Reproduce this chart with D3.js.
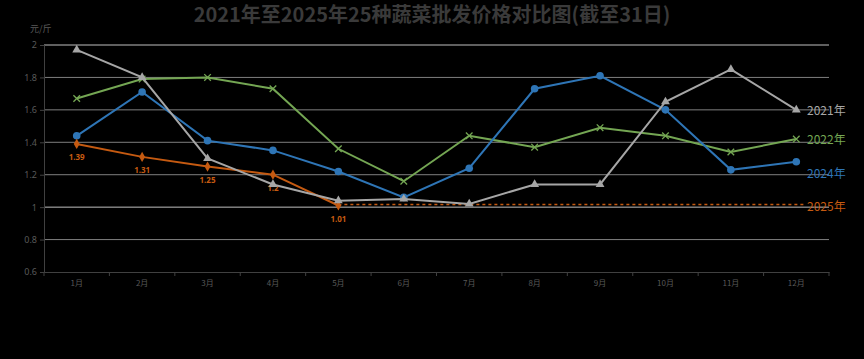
<!DOCTYPE html>
<html><head><meta charset="utf-8">
<script src="https://cdn.jsdelivr.net/npm/d3@7"></script>
<style>body{margin:0;background:#000;}svg{display:block;}</style>
</head><body>
<svg id="c" width="864" height="359"></svg>
<script>
const months = ["1月","2月","3月","4月","5月","6月","7月","8月","9月","10月","11月","12月"];
const yTicks = [0.6,0.8,1,1.2,1.4,1.6,1.8,2];
const s2021 = [1.97,1.80,1.30,1.14,1.04,1.05,1.02,1.14,1.14,1.65,1.85,1.60];
const s2022 = [1.67,1.79,1.80,1.73,1.36,1.16,1.44,1.37,1.49,1.44,1.34,1.42];
const s2024 = [1.44,1.71,1.41,1.35,1.22,1.06,1.24,1.73,1.81,1.60,1.23,1.28];
const s2025 = [1.39,1.31,1.25,1.20,1.01];
const names = ["2021年","2022年","2024年","2025年"];
const colors = ["#a6a6a6","#74a653","#2e75b6","#c55a11"];

const svg = d3.select("#c");
const x = d3.scaleBand().domain(months).range([44,829]);
const y = d3.scaleLinear().domain([0.6,2]).range([272,45]);
const cx = m => x(m) + x.bandwidth()/2;

svg.append("text").attr("x",432).attr("y",22).attr("text-anchor","middle")
  .attr("font-family","Noto Sans CJK SC").attr("font-weight","bold").attr("font-size",20)
  .attr("fill","#3a3a3a").text("2021年至2025年25种蔬菜批发价格对比图(截至31日)");
svg.append("text").attr("x",30).attr("y",32).attr("font-family","Noto Sans CJK SC")
  .attr("font-size",9).attr("fill","#595959").text("元/斤");

// grid
svg.append("g").selectAll("line").data(yTicks.filter(t=>t>0.6)).join("line")
  .attr("x1",44).attr("x2",829).attr("y1",d=>y(d)).attr("y2",d=>y(d))
  .attr("stroke",d=> (d===1||d===2)?"#bfbfbf":"#7f7f7f").attr("stroke-width",1);

const yAxis = svg.append("g").attr("transform","translate(44,0)")
  .call(d3.axisLeft(y).tickValues(yTicks).tickSize(4).tickFormat(d3.format("~g")));
yAxis.select(".domain").attr("stroke","#404040");
yAxis.selectAll(".tick line").attr("stroke","#404040");
yAxis.selectAll("text").attr("fill","#595959").attr("font-size",9).attr("font-family","Noto Sans");

const xAxis = svg.append("g").attr("transform","translate(0,272)")
  .call(d3.axisBottom(x).tickSize(0));
xAxis.select(".domain").attr("stroke","#404040");
xAxis.selectAll("text").attr("fill","#595959").attr("font-size",8).attr("font-family","Noto Sans CJK SC").attr("dy","1.4em");
svg.append("g").selectAll("line").data(d3.range(13)).join("line")
  .attr("x1",i=>44+i*x.bandwidth()).attr("x2",i=>44+i*x.bandwidth())
  .attr("y1",272).attr("y2",276).attr("stroke","#404040");

const line = d3.line().x((d,i)=>cx(months[i])).y(d=>y(d));

// 2025 dotted extension
svg.append("line").attr("x1",cx(months[4])).attr("x2",cx(months[11])+8)
  .attr("y1",y(s2025[4])-1).attr("y2",y(s2025[4])-1)
  .attr("stroke",colors[3]).attr("stroke-width",1.3).attr("stroke-dasharray","3,3");

const drawOrder = [1,2,3,0];
const series = [s2021,s2022,s2024,s2025];
drawOrder.forEach(k=>{
  const s = series[k];
  svg.append("path").datum(s).attr("d",line).attr("fill","none")
    .attr("stroke",colors[k]).attr("stroke-width",2);
  const g = svg.append("g");
  if(k===0){
    g.selectAll("path").data(s).join("path")
      .attr("transform",(d,i)=>`translate(${cx(months[i])},${y(d)})`)
      .attr("d",d3.symbol(d3.symbolTriangle,34)).attr("fill",colors[0]);
  } else if(k===1){
    g.selectAll("path").data(s).join("path")
      .attr("transform",(d,i)=>`translate(${cx(months[i])},${y(d)})`)
      .attr("d",d3.symbol(d3.symbolTimes,30)).attr("stroke",colors[1]).attr("stroke-width",1.3).attr("fill","none");
  } else if(k===2){
    g.selectAll("circle").data(s).join("circle")
      .attr("cx",(d,i)=>cx(months[i])).attr("cy",d=>y(d)).attr("r",3.8).attr("fill",colors[2]);
  } else {
    g.selectAll("path").data(s).join("path")
      .attr("transform",(d,i)=>`translate(${cx(months[i])},${y(d)})`)
      .attr("d",d3.symbol(d3.symbolDiamond,30)).attr("fill",colors[3]);
    g.selectAll("text").data(s).join("text")
      .attr("x",(d,i)=>cx(months[i])).attr("y",d=>y(d)+16).attr("text-anchor","middle")
      .attr("font-family","Noto Sans").attr("font-size",8).attr("font-weight","bold")
      .attr("fill",colors[3]).text(d=>d3.format("~g")(d));
  }
});

// right labels
const labY = [s2021[11], s2022[11], s2024[11]-0.07, s2025[4]];
names.forEach((n,k)=>{
  svg.append("text").attr("x",807).attr("y",y(labY[k])+5)
    .attr("font-family","Noto Sans CJK SC").attr("font-size",12)
    .attr("fill",colors[k]).text(n);
});
</script>
</body></html>
